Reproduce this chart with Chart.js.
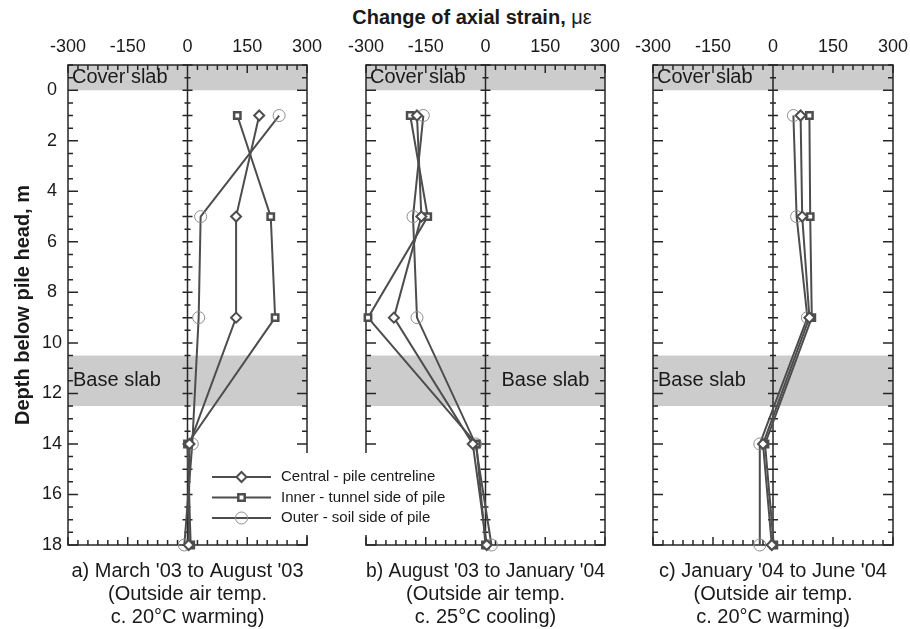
<!DOCTYPE html>
<html>
<head>
<meta charset="utf-8">
<script src="https://cdn.jsdelivr.net/npm/chart.js@4.4.0/dist/chart.umd.min.js"></script>
<style>
  body { margin: 0; background: #fff; }
  #wrap { position: relative; width: 910px; height: 629px; overflow: hidden; }
  canvas { position: absolute; top: 0; }
  #title { position: absolute; left: 272px; width: 400px; top: 6px; text-align: center;
           font: bold 20px 'Liberation Sans', Arial, sans-serif; color: #1a1a1a; }
</style>
</head>
<body>
<div id="wrap">
  <div id="title">Change of axial strain, <span style="font-weight:normal">με</span></div>
  <canvas id="panelC" width="290" height="629" style="left:620px"></canvas>
  <canvas id="panelB" width="290" height="629" style="left:330px"></canvas>
  <canvas id="panelA" width="460" height="629" style="left:0px;z-index:2"></canvas>
</div>
<script>
// depths of the gauges (m below pile head)
const depths = [1, 5, 9, 14, 18];
const seriesNames = ['Central - pile centreline', 'Inner - tunnel side of pile', 'Outer - soil side of pile'];

// a) March '03 to August '03
const centralA = [180, 122, 122, 5, 3];
const innerA   = [125, 209, 220, 0, 8];
const outerA   = [230, 33, 28, 12, -8];
// b) August '03 to January '04
const centralB = [-172, -161, -230, -32, 3];
const innerB   = [-189, -145, -295, -23, 0];
const outerB   = [-156, -182, -172, -25, 15];
// c) January '04 to June '04
const centralC = [69, 73, 91, -25, -3];
const innerC   = [91, 93, 97, -20, 2];
const outerC   = [51, 59, 86, -33, -33];

const xTicks = [-300, -150, 0, 150, 300];
const yTicks = [0, 2, 4, 6, 8, 10, 12, 14, 16, 18];
const coverSlab = [-1, 0];
const baseSlab = [10.5, 12.5];

const captionA = ["a) March '03 to August '03", '(Outside air temp.', 'c. 20°C warming)'];
const captionB = ["b) August '03 to January '04", '(Outside air temp.', 'c. 25°C cooling)'];
const captionC = ["c) January '04 to June '04", '(Outside air temp.', 'c. 20°C warming)'];

Chart.defaults.font.family = "'Liberation Sans', Arial, sans-serif";
Chart.defaults.color = '#1a1a1a';

const LINE = '#4d4d4d';

function makeSets(c, i, o) {
  const pts = vals => vals.map((v, k) => ({ x: v, y: depths[k] }));
  const common = { showLine: true, tension: 0, clip: false, borderColor: LINE, borderWidth: 2 };
  return [
    { ...common, label: seriesNames[0], data: pts(c), pointStyle: 'rectRot', pointRadius: 5,
      pointBorderWidth: 2, pointBorderColor: LINE, pointBackgroundColor: '#fff' },
    { ...common, label: seriesNames[1], data: pts(i), pointStyle: 'rect', pointRadius: 4.5,
      pointBorderWidth: 2.5, pointBorderColor: LINE, pointBackgroundColor: '#fff' },
    { ...common, label: seriesNames[2], data: pts(o), pointStyle: 'circle', pointRadius: 6,
      pointBorderWidth: 1, pointBorderColor: '#8c8c8c', pointBackgroundColor: 'rgba(255,255,255,0)' }
  ];
}

const panelDecor = {
  id: 'panelDecor',
  beforeDatasetsDraw(chart, args, opts) {
    const { ctx, chartArea: ca } = chart;
    const x = chart.scales.x, y = chart.scales.y;
    ctx.save();
    // slabs
    ctx.fillStyle = '#cccccc';
    [coverSlab, baseSlab].forEach(b => {
      const y0 = y.getPixelForValue(b[0]), y1 = y.getPixelForValue(b[1]);
      ctx.fillRect(ca.left, y0, ca.width, y1 - y0);
    });
    ctx.fillStyle = '#1a1a1a';
    ctx.font = "20px 'Liberation Sans', Arial, sans-serif";
    ctx.textBaseline = 'middle';
    ctx.textAlign = 'left';
    ctx.fillText('Cover slab', ca.left + 4, y.getPixelForValue((coverSlab[0] + coverSlab[1]) / 2));
    const bx = opts.baseSide === 'right' ? x.getPixelForValue(0) + 16 : ca.left + 5;
    ctx.fillText('Base slab', bx, y.getPixelForValue((baseSlab[0] + baseSlab[1]) / 2));

    // frame + zero line
    ctx.strokeStyle = '#262626';
    ctx.lineWidth = 1.5;
    ctx.strokeRect(ca.left, ca.top, ca.width, ca.height);
    const x0 = x.getPixelForValue(0);
    ctx.beginPath();
    ctx.moveTo(x0, ca.top);
    ctx.lineTo(x0, ca.bottom);
    // inward ticks
    for (let v = -300; v <= 300; v += 25) {
      const px = x.getPixelForValue(v);
      const len = v % 150 === 0 ? 8 : 5;
      ctx.moveTo(px, ca.top); ctx.lineTo(px, ca.top + len);
      ctx.moveTo(px, ca.bottom); ctx.lineTo(px, ca.bottom - len);
    }
    for (let d = -1; d <= 18; d += 0.5) {
      const py = y.getPixelForValue(d);
      const len = d % 2 === 0 ? 10 : 5;
      ctx.moveTo(ca.left, py); ctx.lineTo(ca.left + len, py);
      ctx.moveTo(ca.right, py); ctx.lineTo(ca.right - len, py);
      const zl = Number.isInteger(d) ? 5 : 3;
      ctx.moveTo(x0 - zl, py); ctx.lineTo(x0 + zl, py);
    }
    ctx.stroke();
    ctx.restore();
  },
  afterDatasetsDraw(chart, args, opts) {
    if (!opts.legend) return;
    const { ctx, chartArea: ca } = chart;
    ctx.save();
    ctx.fillStyle = '#fff';
    ctx.fillRect(ca.right - 102, ca.bottom - 92, 240, 82);
    chart.data.datasets.forEach((ds, i) => {
      const cy = ca.bottom - 68 + i * 20.5;
      const lx = ca.right - 95;
      ctx.strokeStyle = ds.borderColor;
      ctx.lineWidth = ds.borderWidth;
      ctx.beginPath();
      ctx.moveTo(lx, cy); ctx.lineTo(lx + 59, cy);
      ctx.stroke();
      ctx.fillStyle = ds.pointBackgroundColor;
      ctx.strokeStyle = ds.pointBorderColor;
      ctx.lineWidth = ds.pointBorderWidth;
      Chart.helpers.drawPoint(ctx, { pointStyle: ds.pointStyle, radius: ds.pointRadius,
        borderWidth: ds.pointBorderWidth, rotation: 0 }, lx + 29.5, cy);
      ctx.fillStyle = '#1a1a1a';
      ctx.font = "15px 'Liberation Sans', Arial, sans-serif";
      ctx.textBaseline = 'middle';
      ctx.textAlign = 'left';
      ctx.fillText(ds.label, lx + 69, cy);
    });
    ctx.restore();
  }
};

function makePanel(id, sets, caption, cfg) {
  return new Chart(document.getElementById(id), {
    type: 'scatter',
    data: { datasets: sets },
    plugins: [panelDecor],
    options: {
      responsive: false,
      animation: false,
      devicePixelRatio: 1,
      events: [],
      layout: { padding: { top: 35, bottom: 0, left: cfg.left, right: cfg.right } },
      scales: {
        x: {
          type: 'linear', position: 'top', min: -300, max: 300,
          afterBuildTicks: s => { s.ticks = xTicks.map(v => ({ value: v })); },
          afterFit: s => { s.height = 30; s.paddingLeft = 0; s.paddingRight = 0; },
          grid: { display: false, drawTicks: false },
          border: { display: false },
          ticks: { font: { size: 18 }, color: '#1a1a1a', padding: 7, maxRotation: 0, autoSkip: false }
        },
        y: {
          type: 'linear', reverse: true, min: -1, max: 18,
          display: cfg.showY,
          afterBuildTicks: s => { s.ticks = yTicks.map(v => ({ value: v })); },
          afterFit: s => { s.width = cfg.showY ? 68 : 0; },
          grid: { display: false, drawTicks: false },
          border: { display: false },
          ticks: { font: { size: 18 }, color: '#1a1a1a', padding: 6, crossAlign: 'center' },
          title: { display: true, text: 'Depth below pile head, m', color: '#1a1a1a',
                   font: { size: 20, weight: 'bold' }, padding: { top: 11, bottom: 0 } }
        }
      },
      plugins: {
        legend: { display: false },
        tooltip: { enabled: false },
        title: { display: true, position: 'bottom', fullSize: false, text: caption, color: '#1a1a1a',
                 font: { size: 20, weight: 'normal', lineHeight: 1.15 }, padding: { top: 15, bottom: 0 } },
        panelDecor: { baseSide: cfg.baseSide, legend: cfg.legend }
      }
    }
  });
}

makePanel('panelC', makeSets(centralC, innerC, outerC), captionC,
  { left: 33, right: 17, showY: false, baseSide: 'left', legend: false });
makePanel('panelB', makeSets(centralB, innerB, outerB), captionB,
  { left: 36, right: 15, showY: false, baseSide: 'right', legend: false });
makePanel('panelA', makeSets(centralA, innerA, outerA), captionA,
  { left: 0, right: 153, showY: true, baseSide: 'left', legend: true });
</script>
</body>
</html>
